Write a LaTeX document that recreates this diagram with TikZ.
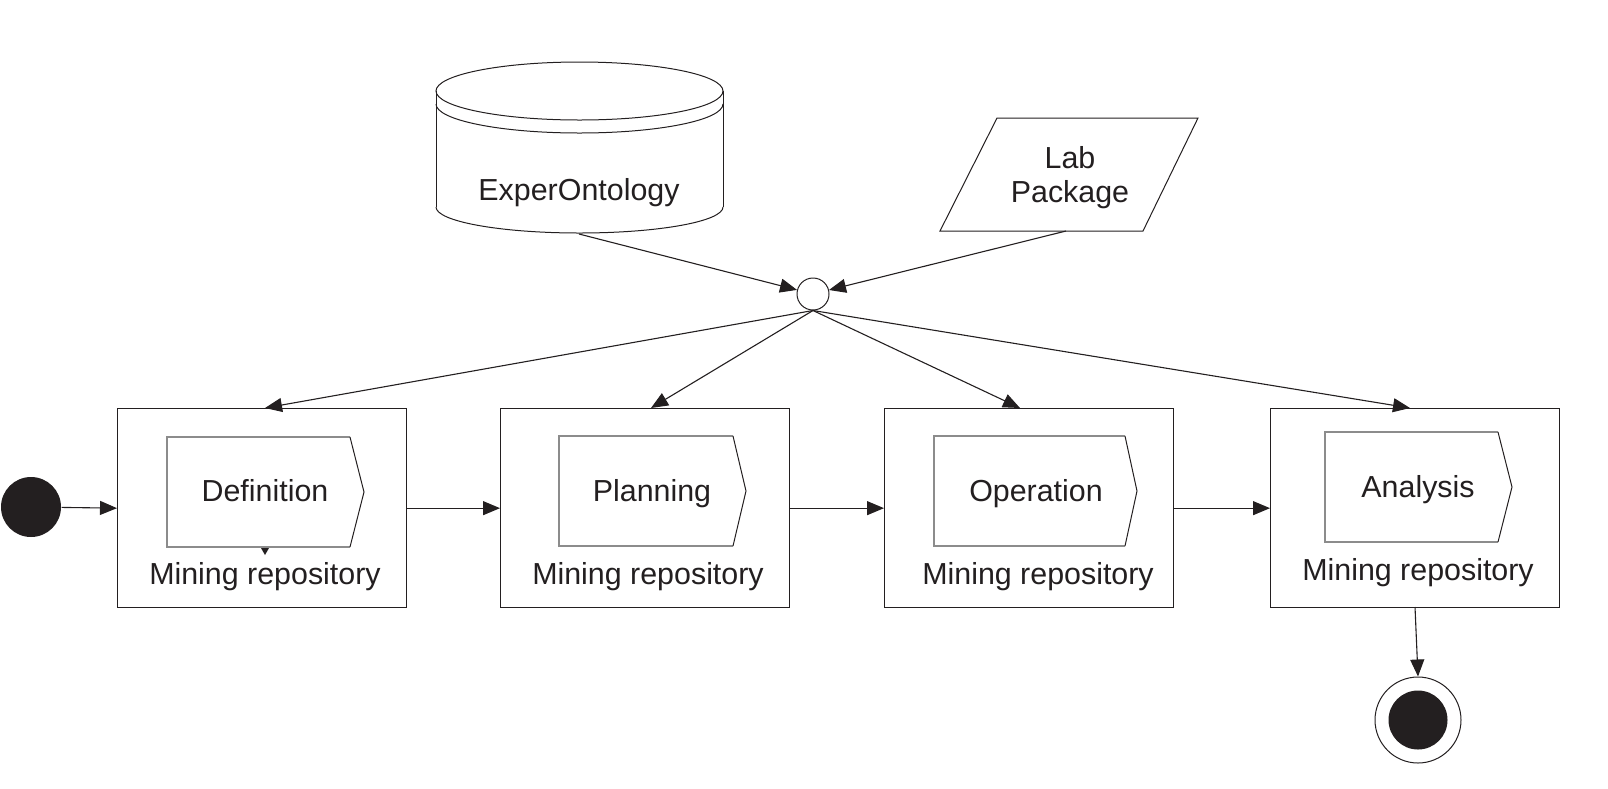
\documentclass[tikz,border=0pt]{standalone}
\usepackage{fontspec}
\setmainfont{Liberation Sans}
\usetikzlibrary{arrows.meta,calc}
\definecolor{ink}{RGB}{35,31,32}
\begin{document}
\begin{tikzpicture}[x=1pt,y=-1pt,
  line width=1.2pt, draw=ink,
  txt/.style={font=\fontsize{30.4}{36}\selectfont, inner sep=0pt, text=ink},
  stagebox/.style={draw=ink, line width=1.3pt, minimum width=289pt, minimum height=199pt, inner sep=0pt, anchor=north west},
  arr/.style={draw=ink, -{Triangle[length=17pt,width=14pt]}, line width=1.1pt},
  thinln/.style={line width=1pt, draw=ink},
  chevrect/.style={line width=1.3pt, draw=black!45},
  chevtip/.style={line width=1pt, draw=ink}
]
\useasboundingbox (0,0) rectangle (1608,788);

% ---- cylinder (ExperOntology)
\draw[thinln] (579.5,91) ellipse[x radius=143.5pt, y radius=29pt];
\draw[thinln] (436,104) arc[start angle=180, end angle=360, x radius=143.5pt, y radius=29pt];
\draw[thinln] (436,91) -- (436,207);
\draw[thinln] (723,91) -- (723,207);
\draw[thinln] (436,207) arc[start angle=180, end angle=360, x radius=143.5pt, y radius=26pt];
\node[txt] (db) at (579,193) {ExperOntology};
\coordinate (dbout) at (579,234);

% ---- parallelogram (Lab Package)
\draw[thinln] (997,118) -- (1198,118) -- (1143,231) -- (940,231) -- cycle;
\node[txt, align=center] (lab) at (1070,178) {Lab\\[-2pt]Package};
\coordinate (labout) at (1066,231);

% ---- junction
\node[circle, draw=ink, line width=1pt, minimum size=32pt, inner sep=0pt] (j) at (813,294) {};
\draw[arr] (dbout) -- (j);
\draw[arr] (labout) -- (j);

% ---- start
\node[circle, fill=ink, minimum size=60pt, inner sep=0pt] (start) at (31,507) {};

% ---- stage boxes
\node[stagebox] (b1) at (117,408) {};
\node[stagebox] (b2) at (500,408) {};
\node[stagebox] (b3) at (884,408) {};
\node[stagebox] (b4) at (1270,408) {};

% chevrons
\draw[chevrect] (350,437) -- (167,437) -- (167,547) -- (350,547);
\draw[chevtip] (350,437) -- (364,492) -- (350,547);
\node[txt] (t1) at (265,491) {Definition};
\node[txt] (m1) at (265,577) {Mining repository};
\fill[ink] (261,548) -- (269,548) -- (265,555) -- cycle;

\draw[chevrect] (733,436) -- (559,436) -- (559,546) -- (733,546);
\draw[chevtip] (733,436) -- (746,491) -- (733,546);
\node[txt] (t2) at (652,494) {Planning};
\node[txt] (m2) at (648,577) {Mining repository};

\draw[chevrect] (1125,436) -- (934,436) -- (934,546) -- (1125,546);
\draw[chevtip] (1125,436) -- (1137,491) -- (1125,546);
\node[txt] (t3) at (1036,494) {Operation};
\node[txt] (m3) at (1038,577) {Mining repository};

\draw[chevrect] (1498,432) -- (1325,432) -- (1325,542) -- (1498,542);
\draw[chevtip] (1498,432) -- (1512,487) -- (1498,542);
\node[txt] (t4) at (1418,490) {Analysis};
\node[txt] (m4) at (1418,573) {Mining repository};

% ---- horizontal flow
\draw[arr] (start) -- (b1.west);
\draw[arr] (b1.east) -- (b2.west);
\draw[arr] (b2.east) -- (b3.west);
\draw[arr] (b3.east) -- (b4.west);

% ---- fan out from junction
\coordinate (in1) at (265,408);
\coordinate (in2) at (651,408);
\coordinate (in3) at (1020,408);
\coordinate (in4) at (1410,408);
\draw[arr] (j.south) -- (in1);
\draw[arr] (j.south) -- (in2);
\draw[arr] (j.south) -- (in3);
\draw[arr] (j.south) -- (in4);

% ---- end
\node[circle, draw=ink, line width=1pt, minimum size=86pt, inner sep=0pt] (fin) at (1418,720) {};
\node[circle, fill=ink, minimum size=59pt, inner sep=0pt] (finin) at (fin.center) {};
\coordinate (out4) at (1415,607);
\draw[arr] (out4) -- (fin.north);
\end{tikzpicture}
\end{document}
